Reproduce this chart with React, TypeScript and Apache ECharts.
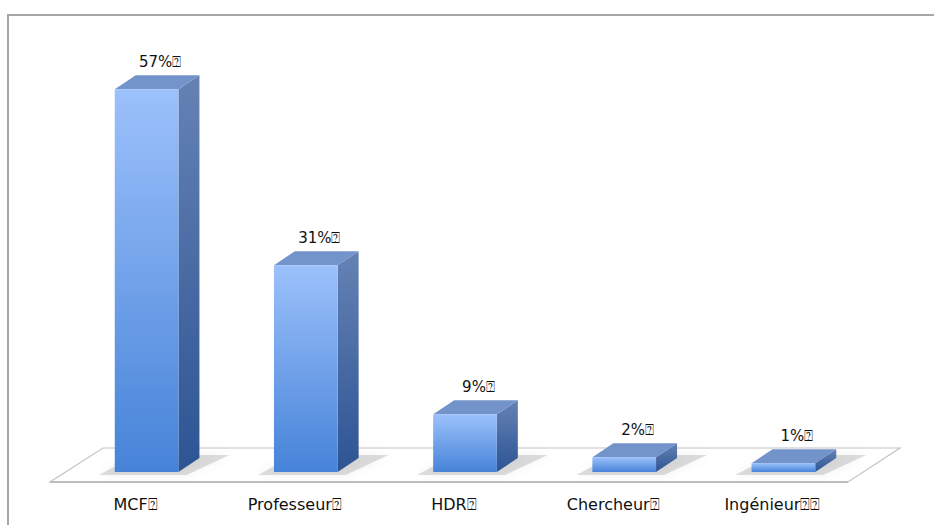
import React, { useEffect, useRef } from "react";
import * as echarts from "echarts";

const categories = ["MCF⍰", "Professeur⍰", "HDR⍰", "Chercheur⍰", "Ingénieur⍰⍰"];
const values = [57, 30.8, 8.6, 2.2, 1.3];
const valueLabels = ["57%⍰", "31%⍰", "9%⍰", "2%⍰", "1%⍰"];

const FONT = "'DejaVu Sans', 'Noto Sans', sans-serif";

export default function App() {
  const ref = useRef<HTMLDivElement>(null);
  useEffect(() => {
    document.body.style.margin = "0";
    const chart = echarts.init(ref.current!, null, { renderer: "svg" });
    const DX = 21;
    const DY = 14;

    const barRender = (params: any, api: any) => {
      const i = api.value(0);
      const v = api.value(1);
      const base = api.coord([i, 0]);
      const top = api.coord([i, v]);
      const w = api.size([1, 0])[0] * 0.4;
      const cx = base[0];
      const y0 = base[1];
      const yt = top[1];
      const l = cx - w / 2;
      const r = cx + w / 2;
      return {
        type: "group",
        children: [
          {
            type: "polygon",
            shape: {
              points: [
                [l - 16, y0 + 3],
                [r + 8, y0 + 3],
                [r + DX + 30, y0 - DY - 3],
                [l + DX, y0 - DY - 3],
              ],
            },
            style: { fill: "rgba(90,90,90,0.2)", shadowBlur: 10, shadowColor: "rgba(0,0,0,0.25)" },
            silent: true,
          },
          {
            type: "polygon",
            shape: { points: [[r, y0], [r, yt], [r + DX, yt - DY], [r + DX, y0 - DY]] },
            style: {
              fill: new echarts.graphic.LinearGradient(0, 0, 0, 1, [
                { offset: 0, color: "#6582b4" },
                { offset: 1, color: "#2d5494" },
              ]),
            },
          },
          {
            type: "polygon",
            shape: { points: [[l, yt], [r, yt], [r + DX, yt - DY], [l + DX, yt - DY]] },
            style: { fill: "#7393cb" },
          },
          {
            type: "rect",
            shape: { x: l, y: yt, width: w, height: y0 - yt },
            style: {
              fill: new echarts.graphic.LinearGradient(0, 0, 0, 1, [
                { offset: 0, color: "#9cc1fb" },
                { offset: 1, color: "#4683d8" },
              ]),
            },
          },
          {
            type: "text",
            x: cx + DX / 2 + 3,
            y: yt - DY - 13,
            style: {
              text: valueLabels[i],
              fill: "#111",
              font: `15px ${FONT}`,
              align: "center",
              verticalAlign: "middle",
            },
          },
        ],
      };
    };

    const floorRender = (params: any, api: any) => {
      const cs = params.coordSys;
      const y0 = cs.y + cs.height;
      const left = cs.x;
      const right = cs.x + cs.width;
      return {
        type: "group",
        children: [
          {
            type: "polygon",
            shape: {
              points: [
                [left - 17, y0 + 10],
                [right - 15, y0 + 10],
                [right + 37, y0 - 24],
                [left + 36, y0 - 24],
              ],
            },
            style: { fill: "#ffffff", stroke: "#c4c4c4", lineWidth: 1.2 },
          },
          {
            type: "line",
            shape: { x1: left - 17, y1: y0 + 10, x2: right - 15, y2: y0 + 10 },
            style: { stroke: "#bdbdbd", lineWidth: 2 },
          },
        ],
      };
    };

    chart.setOption({
      animation: false,
      backgroundColor: "#ffffff",
      grid: { left: 67, right: 934 - 863, top: 69, bottom: 525 - 472 },
      xAxis: {
        type: "category",
        data: categories,
        axisLine: { show: false },
        axisTick: { show: false },
        axisLabel: {
          margin: 24,
          color: "#111",
          fontSize: 16,
          fontFamily: FONT,
          padding: [0, 22, 0, 0],
        },
      },
      yAxis: {
        type: "value",
        min: 0,
        max: 60,
        show: false,
        splitLine: { show: false },
      },
      graphic: [
        {
          type: "rect",
          shape: { x: 8, y: 15, width: 960, height: 560 },
          style: { fill: "none", stroke: "#a6a6a6", lineWidth: 2 },
          z: 100,
        },
      ],
      series: [
        {
          type: "custom",
          renderItem: floorRender,
          data: [[0, 0]],
          z: 1,
          silent: true,
        },
        {
          type: "custom",
          renderItem: barRender,
          data: values.map((v, i) => [i, v]),
          encode: { x: 0, y: 1 },
          z: 2,
        },
      ],
    });
    return () => chart.dispose();
  }, []);
  return (
    <div
      ref={ref}
      style={{ position: "absolute", left: 0, top: 0, width: 934, height: 525 }}
    />
  );
}
